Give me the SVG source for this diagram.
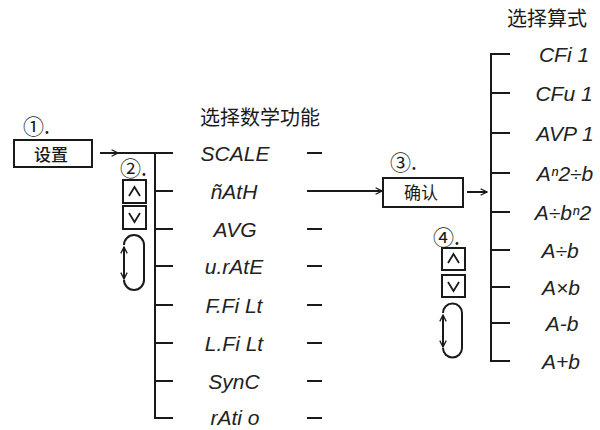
<svg xmlns="http://www.w3.org/2000/svg" width="600" height="430" viewBox="0 0 600 430">
<defs>
<marker id="ah" viewBox="0 0 10 10" refX="9" refY="5" markerWidth="8" markerHeight="8" markerUnits="userSpaceOnUse" orient="auto-start-reverse">
<polyline points="1,1 9,5 1,9" fill="none" stroke="#1a1a1a" stroke-width="1.6"/>
</marker>
</defs>
<style>
.ln{stroke:#1a1a1a;stroke-width:2;fill:none}
.box{stroke:#1a1a1a;stroke-width:2;fill:#fff}
.seg{font-family:"Liberation Sans",Arial,sans-serif;font-style:italic;font-size:21px;fill:#222;text-anchor:middle}
.cjk{font-family:"Noto Sans CJK SC","Noto Sans",sans-serif;fill:#1a1a1a}
.num{font-family:"Noto Sans CJK SC","DejaVu Serif",serif;font-size:21px;fill:#1a1a1a}
.btn{stroke:#1a1a1a;stroke-width:1.8;fill:none}
</style>
<rect width="600" height="430" fill="#fff"/>

<g id="titles">
<text class="cjk" x="260" y="125" font-size="20" text-anchor="middle">选择数学功能</text>
<text class="cjk" x="547" y="26" font-size="20" text-anchor="middle">选择算式</text>
</g>

<g id="step1">
<text class="num" x="23" y="134">①.</text>
<rect class="box" x="14" y="140" width="78" height="27"/>
<text class="cjk" x="51" y="161" font-size="17" font-weight="500" text-anchor="middle">设置</text>
</g>

<g id="step2">
<text class="num" x="120" y="176">②.</text>
<rect class="box" x="123" y="180" width="23" height="23"/>
<polyline class="btn" points="129,196 134.5,187 140,196"/>
<rect class="box" x="123" y="206" width="23" height="23"/>
<polyline class="btn" points="129,213 134.5,222 140,213"/>
<path class="ln" d="M124,245 A10,10 0 0 1 144,245 L144,280 A10,10 0 0 1 124,280"/>
<line class="ln" x1="124" y1="247" x2="124" y2="279" marker-start="url(#ah)" marker-end="url(#ah)"/>
</g>

<g id="step3">
<text class="num" x="390" y="170">③.</text>
<rect class="box" x="383" y="178" width="80" height="29"/>
<text class="cjk" x="421" y="199" font-size="17" text-anchor="middle">确认</text>
</g>

<g id="step4">
<text class="num" x="433" y="245">④.</text>
<rect class="box" x="442" y="248" width="23" height="22"/>
<polyline class="btn" points="448,263 453.5,254 459,263"/>
<rect class="box" x="442" y="275" width="23" height="22"/>
<polyline class="btn" points="448,282 453.5,291 459,282"/>
<path class="ln" d="M443,313 A9.5,9.5 0 0 1 462,313 L462,348 A9.5,9.5 0 0 1 443,348"/>
<line class="ln" x1="443" y1="315" x2="443" y2="347" marker-start="url(#ah)" marker-end="url(#ah)"/>
</g>

<g id="connectors">
<line class="ln" x1="100" y1="153" x2="118" y2="153" marker-end="url(#ah)"/>
<polyline class="ln" points="118,153 173,153"/>
<polyline class="ln" points="155,153 155,418 173,418"/>
<line class="ln" x1="155" y1="191" x2="173" y2="191"/>
<line class="ln" x1="155" y1="229" x2="173" y2="229"/>
<line class="ln" x1="155" y1="266" x2="173" y2="266"/>
<line class="ln" x1="155" y1="305" x2="173" y2="305"/>
<line class="ln" x1="155" y1="343" x2="173" y2="343"/>
<line class="ln" x1="155" y1="381" x2="173" y2="381"/>
<line class="ln" x1="307" y1="153" x2="322" y2="153"/>
<line class="ln" x1="307" y1="191" x2="382" y2="191" marker-end="url(#ah)"/>
<line class="ln" x1="307" y1="229" x2="322" y2="229"/>
<line class="ln" x1="307" y1="266" x2="322" y2="266"/>
<line class="ln" x1="307" y1="305" x2="322" y2="305"/>
<line class="ln" x1="307" y1="343" x2="322" y2="343"/>
<line class="ln" x1="307" y1="381" x2="322" y2="381"/>
<line class="ln" x1="307" y1="418" x2="322" y2="418"/>
<line class="ln" x1="467" y1="192" x2="487" y2="192" marker-end="url(#ah)"/>
<polyline class="ln" points="510,54 491,54 491,361 510,361"/>
<line class="ln" x1="491" y1="93" x2="510" y2="93"/>
<line class="ln" x1="491" y1="133" x2="510" y2="133"/>
<line class="ln" x1="491" y1="173" x2="510" y2="173"/>
<line class="ln" x1="491" y1="212" x2="510" y2="212"/>
<line class="ln" x1="491" y1="250" x2="510" y2="250"/>
<line class="ln" x1="491" y1="287" x2="510" y2="287"/>
<line class="ln" x1="491" y1="323" x2="510" y2="323"/>
</g>

<g id="math-functions">
<text class="seg" x="235" y="161">SCALE</text>
<text class="seg" x="234" y="199">ñAtH</text>
<text class="seg" x="235" y="237">AVG</text>
<text class="seg" x="234" y="274">u.rAtE</text>
<text class="seg" x="234" y="313">F.Fi Lt</text>
<text class="seg" x="234" y="351">L.Fi Lt</text>
<text class="seg" x="234" y="389">SynC</text>
<text class="seg" x="235" y="425">rAti o</text>
</g>

<g id="formulas">
<text class="seg" x="564" y="62">CFi 1</text>
<text class="seg" x="564" y="101">CFu 1</text>
<text class="seg" x="565" y="141">AVP 1</text>
<text class="seg" x="565" y="181">Aⁿ2÷b</text>
<text class="seg" x="563" y="220">A÷bⁿ2</text>
<text class="seg" x="560" y="258">A÷b</text>
<text class="seg" x="561" y="295">A×b</text>
<text class="seg" x="562" y="331">A-b</text>
<text class="seg" x="561" y="369">A+b</text>
</g>
</svg>
